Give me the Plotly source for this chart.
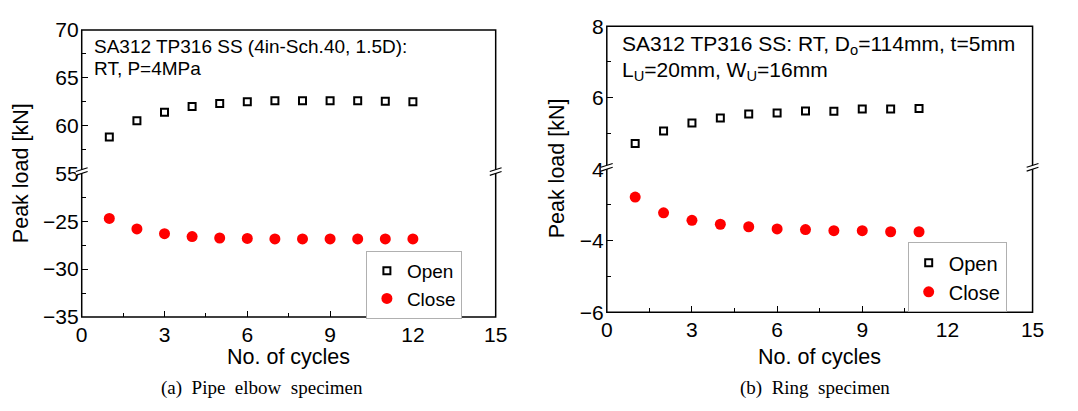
import plotly.graph_objects as go

# ---- data ----
cycles_a = [1, 2, 3, 4, 5, 6, 7, 8, 9, 10, 11, 12]
open_a = [58.8, 60.5, 61.4, 62.0, 62.3, 62.5, 62.6, 62.6, 62.6, 62.6, 62.55, 62.5]
close_a = [-24.7, -25.8, -26.3, -26.6, -26.75, -26.8, -26.85, -26.85, -26.85, -26.85, -26.85, -26.85]

cycles_b = [1, 2, 3, 4, 5, 6, 7, 8, 9, 10, 11]
open_b = [4.72, 5.07, 5.29, 5.43, 5.54, 5.57, 5.63, 5.62, 5.68, 5.68, 5.70]
close_b = [-2.78, -3.22, -3.43, -3.54, -3.61, -3.67, -3.69, -3.72, -3.72, -3.75, -3.75]

x_ticks = [0, 3, 6, 9, 12, 15]
upper_a_ticks = [55, 60, 65, 70]
lower_a_ticks = [-35, -30, -25]
upper_b_ticks = [4, 6, 8]
lower_b_ticks = [-6, -4]

W, H = 1078, 411
SANS = "Liberation Sans, Arial, sans-serif"
SERIF = "Liberation Serif, Times New Roman, serif"

def px(x):
    return x / W

def py(y):
    return 1 - y / H

# panel geometry (paper fractions)
xa_dom = [px(77), px(498)]
xb_dom = [px(611), px(1044)]
a_top, a_mid, a_bot = py(19), py(171), py(323)
b_top, b_mid, b_bot = py(15), py(166.5), py(318)

fig = go.Figure()

open_style = dict(symbol="square-open", size=7, color="black", line=dict(width=2, color="black"))
close_style = dict(symbol="circle", size=11, color="#ff0000")

fig.add_trace(go.Scatter(x=cycles_a, y=open_a, mode="markers", name="Open", marker=open_style,
                         xaxis="x", yaxis="y", legend="legend"))
fig.add_trace(go.Scatter(x=cycles_a, y=close_a, mode="markers", name="Close", marker=close_style,
                         xaxis="x", yaxis="y2", legend="legend"))
fig.add_trace(go.Scatter(x=cycles_b, y=open_b, mode="markers", name="Open", marker=open_style,
                         xaxis="x2", yaxis="y3", legend="legend2"))
fig.add_trace(go.Scatter(x=cycles_b, y=close_b, mode="markers", name="Close", marker=close_style,
                         xaxis="x2", yaxis="y4", legend="legend2"))

tickfont = dict(family=SANS, size=21, color="black")

def xaxis(dom, anchor):
    return dict(domain=dom, anchor=anchor, range=[0, 15], tickvals=x_ticks,
                ticks="inside", ticklen=6, tickwidth=1.2, tickcolor="black",
                minor=dict(dtick=1.5, tick0=0, ticks="inside", ticklen=4, tickwidth=1.2, tickcolor="black"),
                ticklabelstandoff=3,
                showline=False, showgrid=False, zeroline=False, tickfont=tickfont, fixedrange=True)

def yaxis(dom, anchor, rng, tv, minor_dtick, minor_tick0):
    return dict(domain=dom, anchor=anchor, range=rng, tickvals=tv,
                ticks="inside", ticklen=6, tickwidth=1.2, tickcolor="black",
                minor=dict(dtick=minor_dtick, tick0=minor_tick0, ticks="inside", ticklen=4,
                           tickwidth=1.2, tickcolor="black"),
                ticklabelstandoff=2,
                showline=False, showgrid=False, zeroline=False, tickfont=tickfont, fixedrange=True)

legend_common = dict(xanchor="left", yanchor="middle", bordercolor="#b0b0b0", borderwidth=1,
                     bgcolor="white", tracegroupgap=0)

fig.update_layout(
    width=W, height=H,
    margin=dict(l=0, r=0, t=0, b=0),
    paper_bgcolor="white", plot_bgcolor="white",
    font=dict(family=SANS, color="black"),
    xaxis=xaxis(xa_dom, "y2"),
    yaxis=yaxis([a_mid, a_top], "x", [55, 70], upper_a_ticks, 2.5, 55),
    yaxis2=yaxis([a_bot, a_mid], "x", [-35, -20], lower_a_ticks, 2.5, -35),
    xaxis2=xaxis(xb_dom, "y4"),
    yaxis3=yaxis([b_mid, b_top], "x2", [4, 8], upper_b_ticks, 1, 4),
    yaxis4=yaxis([b_bot, b_mid], "x2", [-6, -2], lower_b_ticks, 1, -6),
    legend=dict(x=px(366), y=py(289), font=dict(family=SANS, size=19, color="black"), **legend_common),
    legend2=dict(x=px(917), y=py(281), font=dict(family=SANS, size=20, color="black"), **legend_common),
    showlegend=True,
)

shapes = []
# panel frames
for dom, top, bot in [(xa_dom, a_top, a_bot), (xb_dom, b_top, b_bot)]:
    shapes.append(dict(type="rect", xref="paper", yref="paper", x0=dom[0], x1=dom[1], y0=bot, y1=top,
                       line=dict(color="black", width=1.5), fillcolor="rgba(0,0,0,0)", layer="above"))

# axis break marks ("//") on both vertical edges of each panel
def break_marks(xc, yc):
    out = []
    gap = "M {} {} L {} {} L {} {} L {} {} Z".format(
        px(xc - 6), py(yc), px(xc + 6), py(yc - 4),
        px(xc + 6), py(yc), px(xc - 6), py(yc + 4))
    out.append(dict(type="path", xref="paper", yref="paper", path=gap,
                    fillcolor="white", line=dict(width=0), layer="above"))
    for off in (0, 4):
        out.append(dict(type="line", xref="paper", yref="paper",
                        x0=px(xc - 6), y0=py(yc + off), x1=px(xc + 6), y1=py(yc - 4 + off),
                        line=dict(color="black", width=1.2), layer="above"))
    return out

for xc_px, yc_px in [(77, 171), (498, 171), (611, 166.5), (1044, 166.5)]:
    shapes += break_marks(xc_px, yc_px - 2)

fig.update_layout(shapes=shapes)

ann = []
txt_a = dict(family=SANS, size=19, color="black")
txt_b = dict(family=SANS, size=21, color="black")
ann.append(dict(text="SA312 TP316 SS (4in-Sch.40, 1.5D):", x=px(87), y=py(37), xref="paper", yref="paper",
                xanchor="left", yanchor="middle", showarrow=False, font=txt_a))
ann.append(dict(text="RT, P=4MPa", x=px(87), y=py(60), xref="paper", yref="paper",
                xanchor="left", yanchor="middle", showarrow=False, font=txt_a))
ann.append(dict(text="SA312 TP316 SS: RT, D<sub>o</sub>=114mm, t=5mm", x=px(624), y=py(35), xref="paper",
                yref="paper", xanchor="left", yanchor="middle", showarrow=False, font=txt_b))
ann.append(dict(text="L<sub>U</sub>=20mm, W<sub>U</sub>=16mm", x=px(624), y=py(63), xref="paper",
                yref="paper", xanchor="left", yanchor="middle", showarrow=False, font=txt_b))

title_font = dict(family=SANS, size=21.5, color="black")
for xc, yc in [(16, 171), (560, 166)]:
    ann.append(dict(text="Peak load [kN]", x=px(xc), y=py(yc), xref="paper", yref="paper",
                    textangle=-90, xanchor="center", yanchor="middle", showarrow=False, font=title_font))
for xc in [287.5, 827.5]:
    ann.append(dict(text="No. of cycles", x=px(xc), y=py(365), xref="paper", yref="paper",
                    xanchor="center", yanchor="middle", showarrow=False, font=title_font))

cap_font = dict(family=SERIF, size=19, color="black")
ann.append(dict(text="(a)\u00a0\u00a0Pipe\u00a0\u00a0elbow\u00a0\u00a0specimen", x=px(260), y=py(398),
                xref="paper", yref="paper", xanchor="center", yanchor="middle", showarrow=False, font=cap_font))
ann.append(dict(text="(b)\u00a0\u00a0Ring\u00a0\u00a0specimen", x=px(823), y=py(398),
                xref="paper", yref="paper", xanchor="center", yanchor="middle", showarrow=False, font=cap_font))

fig.update_layout(annotations=ann)

fig.write_html("out.html")
